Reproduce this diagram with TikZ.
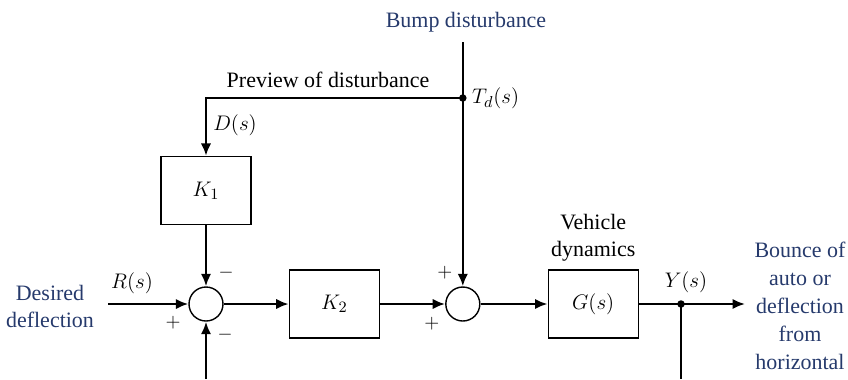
\documentclass[tikz,border=0pt]{standalone}
\usepackage{fontspec}
\setmainfont{Liberation Serif}
\usetikzlibrary{arrows.meta,positioning}
\definecolor{notecol}{RGB}{38,58,108}

\begin{document}
\begin{tikzpicture}[
  x=1mm,y=1mm,
  font=\fontsize{12.5}{15}\selectfont,
  block/.style={draw,line width=.8pt,minimum width=18mm,minimum height=13.6mm,inner sep=0pt},
  sumj/.style={draw,circle,line width=.8pt,minimum size=6.8mm,inner sep=0pt},
  arr/.style={-{Latex[length=2.5mm,width=2.1mm]},line width=1.5pt},
  wire/.style={line width=1.5pt},
  note/.style={text=notecol,align=center},
  sgn/.style={inner sep=0pt,font=\fontsize{11}{13}\selectfont}
]
\useasboundingbox (0,0) rectangle (169.6,-75.8);
% main forward path
\node[sumj] (s1) at (41.2,-60.8) {};
\node[block,right=13mm of s1] (k2) {$K_2$};
\node[sumj,right=13mm of k2] (s2) {};
\node[block,right=13.4mm of s2] (g) {$G(s)$};
\node[block,above=12.2mm of s1] (k1) {$K_1$};
\node[align=center,above=0.4mm of g,font=\fontsize{12.5}{15.4}\selectfont] (veh) {Vehicle\\dynamics};
% disturbance path
\coordinate (td) at (s2 |- 0,-19.6);
\coordinate (btop) at (s2 |- 0,-8.4);
\node[note] (bump) at (93.2,-4.4) {Bump disturbance};
\node (prev) at (65.6,-16) {Preview of disturbance};
\node[right=0.6mm of td] (tdl) {$T_d(s)$};
\node (dl) at (47,-25) {$D(s)$};
% input and output
\node[note,font=\fontsize{12.5}{15.4}\selectfont] (des) at (10,-61.3) {Desired\\deflection};
\coordinate (rin) at (21.6,-60.8);
\node (rl) at (26.4,-56.6) {$R(s)$};
\coordinate (yp) at (136.2,-60.8);
\coordinate (yout) at (149,-60.8);
\node (yl) at (137.2,-56.4) {$Y(s)$};
\node[note,font=\fontsize{12.5}{15.9}\selectfont] (bnc) at (160,-61.1) {Bounce of\\auto or\\deflection\\from\\horizontal};
\coordinate (fb1) at (s1 |- 0,-75.8);
\coordinate (fb2) at (yp |- 0,-75.8);
% signs
\node[sgn] at ([shift={(4mm,6.2mm)}]s1) {$-$};
\node[sgn] at ([shift={(-6.6mm,-3.8mm)}]s1) {$+$};
\node[sgn] at ([shift={(3.8mm,-6.2mm)}]s1) {$-$};
\node[sgn] at ([shift={(-3.6mm,6.2mm)}]s2) {$+$};
\node[sgn] at ([shift={(-6.2mm,-4mm)}]s2) {$+$};
% connectors
\draw[arr] (rin) -- (s1);
\draw[arr] (s1) -- (k2);
\draw[arr] (k2) -- (s2);
\draw[arr] (s2) -- (g);
\draw[wire] (g) -- (yp);
\draw[arr] (yp) -- (yout);
\draw[wire] (yp) -- (fb2);
\draw[arr] (fb1) -- (s1);
\draw[arr] (k1) -- (s1);
\draw[arr] (btop) -- (s2);
\draw[arr] (td) -| (k1);
\fill (td) circle (0.75mm);
\fill (yp) circle (0.75mm);
\end{tikzpicture}
\end{document}
